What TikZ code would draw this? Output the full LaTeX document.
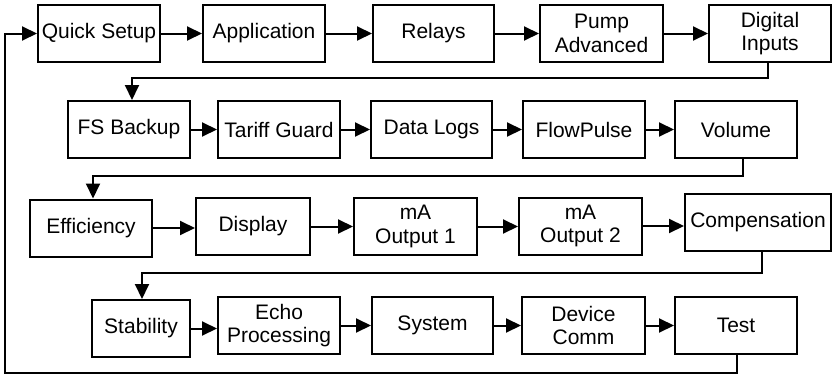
\documentclass[tikz,border=0pt]{standalone}
\usepackage{fontspec}
\setmainfont{Liberation Sans}
\usetikzlibrary{arrows.meta}
\begin{document}
\begin{tikzpicture}[x=1pt,y=-1pt,
  box/.style={draw, line width=2pt, minimum width=122pt, minimum height=57pt,
    inner sep=0pt, align=center, font=\fontsize{21}{23.5}\selectfont},
  arr/.style={-{Triangle[length=15pt,width=14pt]}, line width=2pt}]
\useasboundingbox (0,0) rectangle (833,375);
% row 1
\node[box] (qs)  at (99,33.5)   {Quick Setup};
\node[box] (app) at (264,33.5)  {Application};
\node[box, minimum width=121pt] (rel) at (433.5,33.5) {Relays};
\node[box, minimum width=123pt] (pump) at (601.5,33.5) {Pump\\Advanced};
\node[box] (di)  at (770,33.5)  {Digital\\Inputs};
% row 2
\node[box] (fs)  at (129,129.5) {FS Backup};
\node[box] (tg)  at (279,129.5) {Tariff Guard};
\node[box, minimum width=121pt] (dl) at (431.5,129.5) {Data Logs};
\node[box] (fp)  at (584,129.5) {FlowPulse};
\node[box] (vol) at (736,129.5) {Volume};
% row 3
\node[box] (eff) at (91,228) {Efficiency};
\node[box, minimum width=114pt] (disp) at (253,226.5) {Display};
\node[box, minimum width=123pt] (ma1) at (415.5,226.5) {mA\\Output 1};
\node[box, minimum width=123pt] (ma2) at (580.5,226) {mA\\Output 2};
\node[box, minimum width=146pt] (comp) at (758,222.5) {Compensation};
% row 4
\node[box, minimum width=98pt] (stab) at (141,328.5) {Stability};
\node[box] (echo) at (279,325.5) {Echo\\Processing};
\node[box, minimum width=121pt] (sys) at (432.5,325.5) {System};
\node[box, minimum width=123pt] (dc) at (583.5,325.5) {Device\\Comm};
\node[box] (test) at (736,325.5) {Test};
% arrows in rows
\draw[arr] (qs.east) -- (app.west);
\draw[arr] (app.east) -- (rel.west);
\draw[arr] (rel.east) -- (pump.west);
\draw[arr] (pump.east) -- (di.west);
\draw[arr] (fs.east) -- (tg.west);
\draw[arr] (tg.east) -- (dl.west);
\draw[arr] (dl.east) -- (fp.west);
\draw[arr] (fp.east) -- (vol.west);
\draw[arr] (eff.east) -- (eff.east -| disp.west);
\draw[arr] (disp.east) -- (disp.east -| ma1.west);
\draw[arr] (ma1.east) -- (ma1.east -| ma2.west);
\draw[arr] (ma2.east) -- (ma2.east -| comp.west);
\draw[arr] (stab.east) -- (stab.east -| echo.west);
\draw[arr] (echo.east) -- (sys.west);
\draw[arr] (sys.east) -- (dc.west);
\draw[arr] (dc.east) -- (test.west);
% row changes
\draw[arr] ([xshift=-2pt]di.south) -- ++(0,15) -| ([xshift=3pt]fs.north);
\draw[arr] ([xshift=7pt]vol.south) -- ++(0,17) -| ([xshift=2pt]eff.north);
\draw[arr] ([xshift=4pt]comp.south) -- ++(0,21) -| ([xshift=1pt]stab.north);
% feedback
\coordinate (fbl) at (5,373);
\draw[arr] ([xshift=1pt]test.south) |- (fbl) |- (qs.west);
\end{tikzpicture}
\end{document}
